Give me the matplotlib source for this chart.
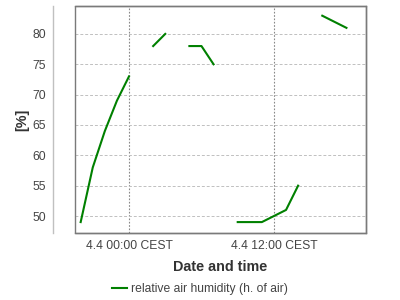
import numpy as np
import matplotlib.pyplot as plt
from matplotlib.patches import Rectangle

plt.rcParams["font.family"] = ["Liberation Sans", "DejaVu Sans"]

# hours relative to 4.4 00:00 CEST, gaps are missing readings
hours = np.arange(-4, 19)
humidity = np.array([
    49, 58, 64, 69, 73, np.nan, 78, 80, np.nan, 78, 78, 75,
    np.nan, 49, 49, 49, 50, 51, 55, np.nan, 83, 82, 81,
])
tick_hours = [0, 12]
tick_labels = ["4.4 00:00 CEST", "4.4 12:00 CEST"]
y_ticks = [50, 55, 60, 65, 70, 75, 80]
series_name = "relative air humidity (h. of air)"

fig = plt.figure(figsize=(4, 3), dpi=100)
ax = fig.add_axes([0.1875, 0.2233, 0.7263, 0.7567])

line, = ax.plot(hours, humidity, color="#008000", linewidth=1.5, zorder=5)

ax.set_xlim(-4.47, 19.58)
ax.set_ylim(47.2, 84.6)

ax.set_xticks(tick_hours)
ax.set_xticklabels(tick_labels)
ax.set_yticks(y_ticks)
ax.tick_params(axis="both", length=0, labelsize=8.7, colors="#444444")
ax.tick_params(axis="x", pad=5)
ax.tick_params(axis="y", pad=5)

# grid: dashed light horizontal, dotted darker vertical
ax.grid(axis="y", color="#c0c0c0", linestyle=(0, (3, 2)), linewidth=0.7)
ax.grid(axis="x", color="#888888", linestyle=(0, (1.5, 1.5)), linewidth=0.8)

for side in ["top", "right", "bottom"]:
    ax.spines[side].set_color("#7a7a7a")
    ax.spines[side].set_linewidth(1.0)
ax.spines["left"].set_position(("outward", 16))
ax.spines["left"].set_color("#c0c0c0")
ax.spines["left"].set_linewidth(1.0)

# frame edge on the left of the plot area
ax.add_patch(Rectangle((0, 0), 1, 1, transform=ax.transAxes, fill=False,
                       edgecolor="#7a7a7a", linewidth=1.0, zorder=6,
                       clip_on=False))

ax.set_ylabel("[%]", fontsize=10.4, fontweight="bold", color="#333333",
              labelpad=2)
ax.set_xlabel("Date and time", fontsize=10.4, fontweight="bold",
              color="#333333", labelpad=6)

fig.legend([line], [series_name], loc="center",
           bbox_to_anchor=(0.5, 1 - 289 / 300), frameon=False,
           fontsize=8.7, handlelength=1.25, handletextpad=0.3,
           labelcolor="#444444")

fig.savefig("out.png", dpi=100)
